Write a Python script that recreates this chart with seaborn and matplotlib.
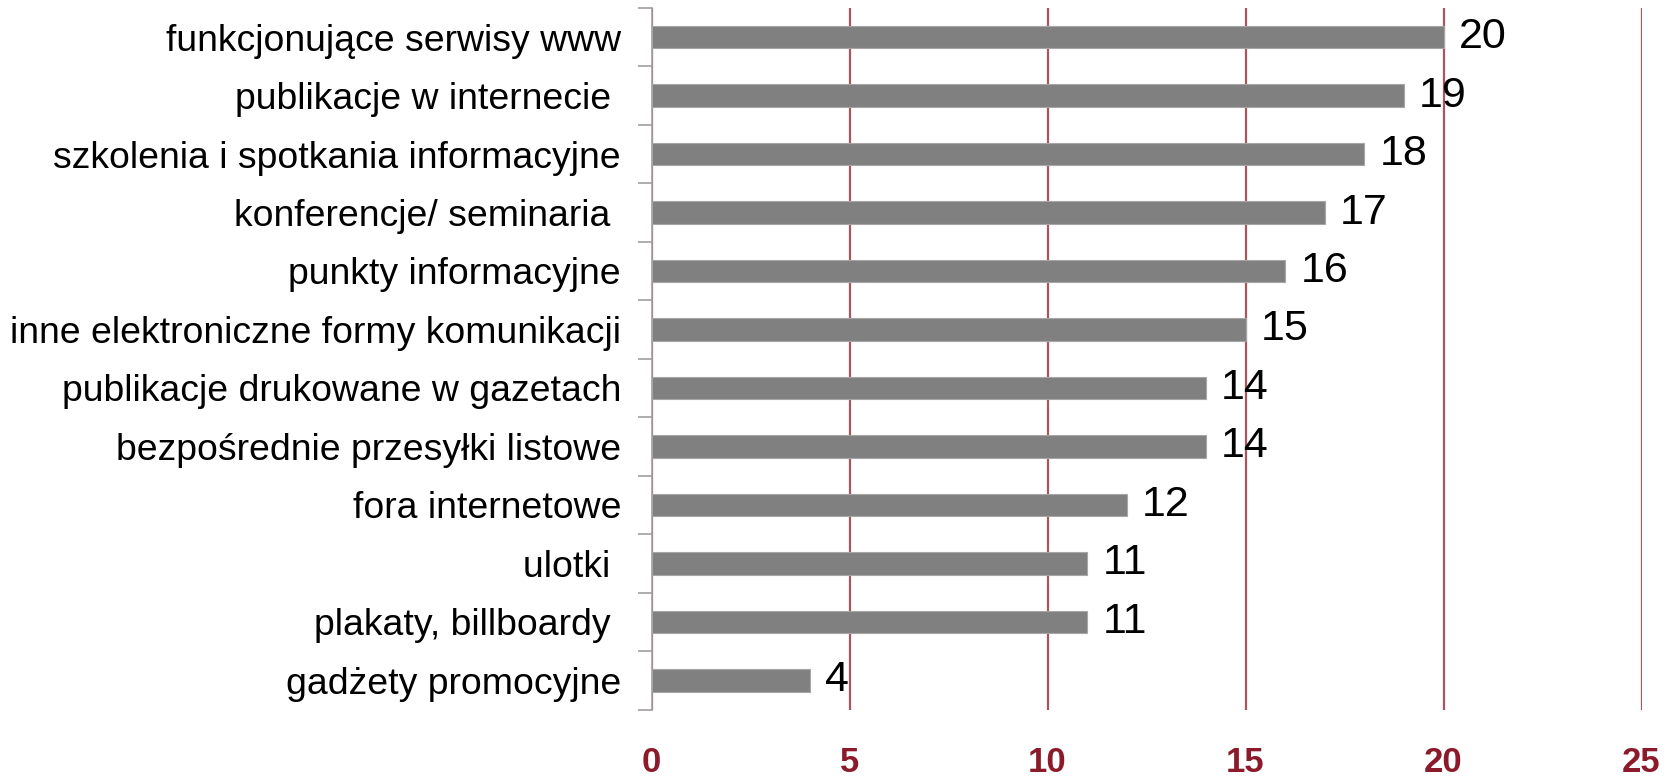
import matplotlib
matplotlib.use("Agg")
import matplotlib.pyplot as plt
import seaborn as sns
import numpy as np
import pandas as pd

categories = [
    "funkcjonujące serwisy www",
    "publikacje w internecie ",
    "szkolenia i spotkania informacyjne",
    "konferencje/ seminaria ",
    "punkty informacyjne",
    "inne elektroniczne formy komunikacji",
    "publikacje drukowane w gazetach",
    "bezpośrednie przesyłki listowe",
    "fora internetowe",
    "ulotki ",
    "plakaty, billboardy ",
    "gadżety promocyjne",
]
values = [20, 19, 18, 17, 16, 15, 14, 14, 12, 11, 11, 4]
x_ticks = [0, 5, 10, 15, 20, 25]

df = pd.DataFrame({"cat": categories, "val": values})

sns.set_style("white")
plt.rcParams["font.family"] = ["Liberation Sans", "DejaVu Sans"]

fig = plt.figure(figsize=(16.75, 7.79), dpi=100)
ax = fig.add_axes([0.389, 0.089, 0.591, 0.901])

sns.barplot(data=df, x="val", y="cat", color="#808080", saturation=1,
            width=0.38, edgecolor="#a6a6a6", linewidth=0.8, ax=ax, zorder=3)

ax.set_xlim(0, 25)
ax.set_ylim(len(categories) - 0.5, -0.5)
ax.set_xticks(x_ticks)
ax.set_xticklabels([str(t) for t in x_ticks], fontsize=25, fontweight="bold",
                   color="#8b1a2b")
ax.tick_params(axis="x", length=0, pad=26)
ax.xaxis.grid(True, color="#a85560", linewidth=1.6, zorder=0)
ax.yaxis.grid(False)

ax.set_yticks(range(len(categories)))
ax.set_yticklabels(categories, fontsize=26.9, color="black")
ax.tick_params(axis="y", which="major", length=0, pad=22)
ax.set_yticks(np.arange(-0.5, len(categories)), minor=True)
ax.tick_params(axis="y", which="minor", length=10, width=1.2, color="#a0a0a0",
               direction="out", left=True)

for s in ["top", "right", "bottom"]:
    ax.spines[s].set_visible(False)
ax.spines["left"].set_color("#a0a0a0")
ax.spines["left"].set_linewidth(1.2)
ax.spines["left"].set_zorder(4)

ax.set_xlabel("")
ax.set_ylabel("")

for i, v in enumerate(values):
    ax.annotate(str(v), (v, i), xytext=(11, 0), textcoords="offset points",
                va="center", ha="left", fontsize=31, color="black")

fig.savefig("out.png", dpi=100)
